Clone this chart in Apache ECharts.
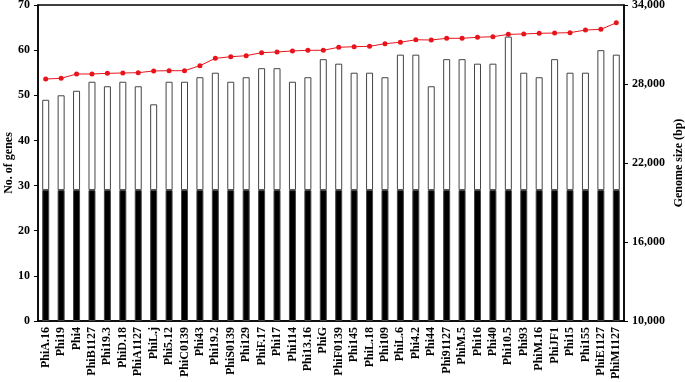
<!DOCTYPE html>
<html>
<head>
<meta charset="utf-8">
<script src="https://cdn.jsdelivr.net/npm/echarts@6/dist/echarts.min.js"></script>
<style>
  html, body { margin: 0; padding: 0; background: #fff; }
  #box { width: 685px; height: 382px; }
</style>
</head>
<body>
<div id="box"></div>
<script>
var phages = ['PhiA.16', 'Phi19', 'Phi4', 'PhiB1127', 'Phi19.3', 'PhiD.18', 'PhiA1127', 'PhiL.j',
  'Phi5.12', 'PhiC0139', 'Phi43', 'Phi19.2', 'PhiS0139', 'Phi129', 'PhiF.17', 'Phi17', 'Phi114',
  'Phi13.16', 'PhiG', 'PhiF0139', 'Phi145', 'PhiL.18', 'Phi109', 'PhiL.6', 'Phi4.2', 'Phi44',
  'Phi91127', 'PhiM.5', 'Phi16', 'Phi40', 'Phi10.5', 'Phi93', 'PhiM.16', 'PhiJF1', 'Phi15',
  'Phi155', 'PhiE1127', 'PhiM1127'];

// shared genes (black part of each bar)
var coreGenes = [29, 29, 29, 29, 29, 29, 29, 29, 29, 29, 29, 29, 29, 29, 29, 29, 29, 29, 29,
  29, 29, 29, 29, 29, 29, 29, 29, 29, 29, 29, 29, 29, 29, 29, 29, 29, 29, 29];

// total genes per phage (top of each bar)
var totalGenes = [49, 50, 51, 53, 52, 53, 52, 48, 53, 53, 54, 55, 53, 54, 56, 56, 53, 54, 58,
  57, 55, 55, 54, 59, 59, 52, 58, 58, 57, 57, 63, 55, 54, 58, 55, 55, 60, 59];

// genome size (bp), red line
var genomeSize = [28380, 28430, 28760, 28760, 28810, 28835, 28860, 28990, 29010, 29010, 29390,
  29950, 30070, 30150, 30380, 30430, 30510, 30560, 30560, 30790, 30830, 30860, 31060, 31170,
  31360, 31340, 31470, 31470, 31550, 31590, 31770, 31800, 31850, 31870, 31900, 32100, 32150, 32650];

var sizeTicks = [10000, 16000, 22000, 28000, 34000];

var otherGenes = totalGenes.map(function(t, i) {
  return t - coreGenes[i];
});

var chart = echarts.init(document.getElementById('box'));
var serif = 'Liberation Serif';

var option = {
  animation: false,
  grid: {
    left: 38,
    right: 61,
    top: 5,
    bottom: 61,
    outerBoundsMode: 'none',
    show: true,
    borderColor: '#000',
    borderWidth: 1.5
  },
  xAxis: {
    type: 'category',
    data: phages,
    axisLine: { lineStyle: { color: '#000', width: 1.5 } },
    axisTick: { length: 3, lineStyle: { color: '#999' } },
    axisLabel: {
      rotate: 90,
      interval: 0,
      margin: 6,
      color: '#000',
      fontFamily: serif,
      fontWeight: 'bold',
      fontSize: 12
    }
  },
  yAxis: [{
    type: 'value',
    min: 0,
    max: 70,
    interval: 10,
    name: 'No. of genes',
    nameLocation: 'middle',
    nameGap: 23,
    nameMoveOverlap: false,
    nameTextStyle: { color: '#000', fontFamily: serif, fontWeight: 'bold', fontSize: 12 },
    splitLine: { show: false },
    axisLine: { show: true, lineStyle: { color: '#000', width: 1.5 } },
    axisTick: { show: true, length: 4, lineStyle: { color: '#000' } },
    axisLabel: { color: '#000', fontFamily: serif, fontWeight: 'bold', fontSize: 12, margin: 8 }
  }, {
    type: 'value',
    position: 'right',
    min: 10000,
    max: 34000,
    name: 'Genome size (bp)',
    nameLocation: 'middle',
    nameRotate: 90,
    nameGap: 49,
    nameMoveOverlap: false,
    nameTextStyle: { color: '#000', fontFamily: serif, fontWeight: 'bold', fontSize: 12 },
    splitLine: { show: false },
    axisLine: { show: true, lineStyle: { color: '#000', width: 1.5 } },
    axisTick: { show: true, length: 4, customValues: sizeTicks, lineStyle: { color: '#000' } },
    axisLabel: {
      customValues: sizeTicks,
      color: '#000',
      fontFamily: serif,
      fontWeight: 'bold',
      fontSize: 12,
      margin: 8,
      formatter: function(v) {
        return v.toLocaleString('en-US');
      }
    }
  }],
  series: [{
      name: 'Core genes',
      type: 'bar',
      stack: 'genes',
      barWidth: 7,
      data: coreGenes,
      itemStyle: { color: '#000', borderColor: '#444', borderWidth: 1 }
    },
    {
      name: 'Other genes',
      type: 'bar',
      stack: 'genes',
      barWidth: 7,
      data: otherGenes,
      itemStyle: { color: '#fff', borderColor: '#444', borderWidth: 1 }
    },
    {
      name: 'Genome size',
      type: 'line',
      yAxisIndex: 1,
      data: genomeSize,
      symbol: 'circle',
      symbolSize: 5,
      lineStyle: { color: '#e8141c', width: 1 },
      itemStyle: { color: '#e8141c' },
      z: 5
    }
  ]
};

chart.setOption(option);
</script>
</body>
</html>
